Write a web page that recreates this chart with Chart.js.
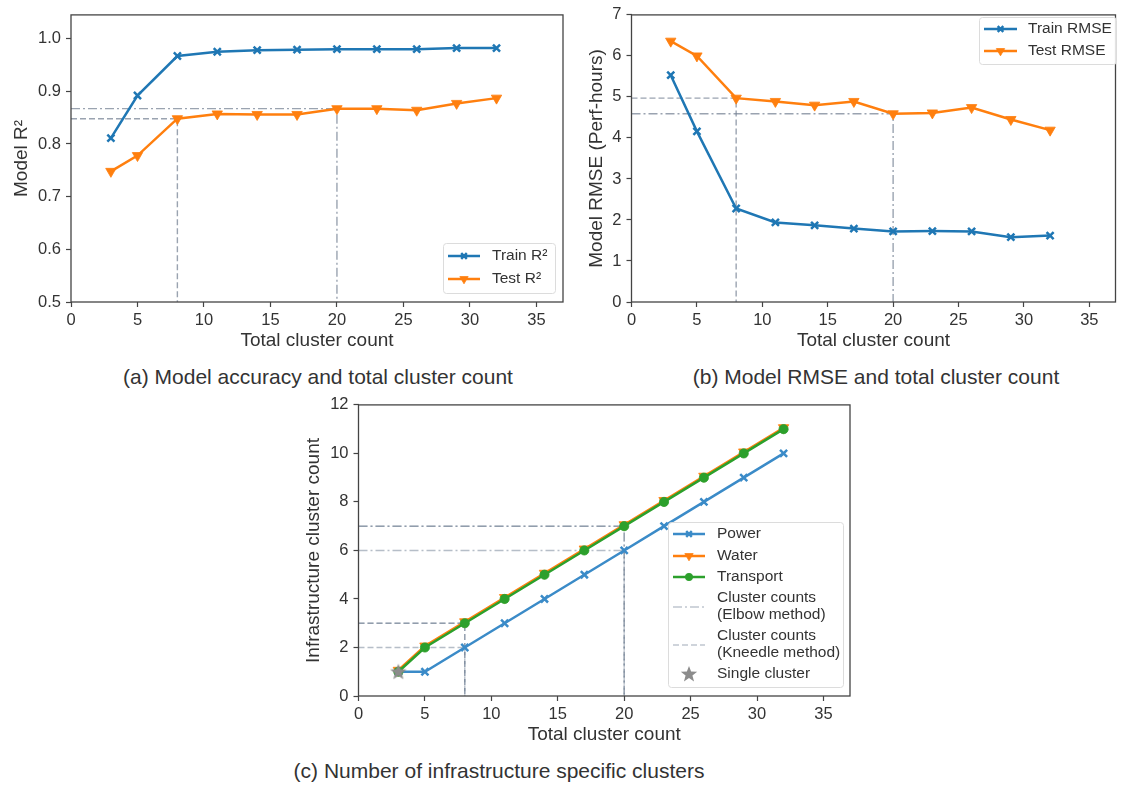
<!DOCTYPE html>
<html>
<head>
<meta charset="utf-8">
<script src="https://cdn.jsdelivr.net/npm/chart.js@4.4.1/dist/chart.umd.min.js"></script>
<style>
  body { margin: 0; background: #fff; }
  #fig { position: relative; width: 1123px; height: 786px; overflow: hidden;
         font-family: "Liberation Sans", Arial, sans-serif; color: #333; }
  canvas { position: absolute; }
  .cap { position: absolute; font-size: 21px; line-height: 1; white-space: nowrap;
         transform: translate(-50%, -50%); }
</style>
</head>
<body>
<div id="fig">
  <canvas id="chartA" width="575" height="360" style="left:0;top:0"></canvas>
  <canvas id="chartB" width="543" height="360" style="left:580px;top:0"></canvas>
  <canvas id="chartC" width="580" height="360" style="left:280px;top:390px"></canvas>
  <div class="cap" style="left:318px;top:376px">(a) Model accuracy and total cluster count</div>
  <div class="cap" style="left:876px;top:376px">(b) Model RMSE and total cluster count</div>
  <div class="cap" style="left:499px;top:770px">(c) Number of infrastructure specific clusters</div>
</div>
<script>
// data
const clusterCounts = [3, 5, 8, 11, 14, 17, 20, 23, 26, 29, 32];
const trainR2 = [0.811, 0.892, 0.967, 0.975, 0.978, 0.979, 0.980, 0.980, 0.980, 0.982, 0.982];
const testR2 = [0.748, 0.778, 0.848, 0.857, 0.856, 0.856, 0.867, 0.867, 0.864, 0.877, 0.887];
const trainRMSE = [5.53, 4.16, 2.28, 1.94, 1.87, 1.79, 1.72, 1.73, 1.72, 1.58, 1.62];
const testRMSE = [6.36, 6.00, 4.97, 4.89, 4.80, 4.89, 4.59, 4.61, 4.74, 4.45, 4.19];
const powerCount = [1, 1, 2, 3, 4, 5, 6, 7, 8, 9, 10];
const waterCount = [1.06, 2.06, 3.06, 4.06, 5.06, 6.06, 7.06, 8.06, 9.06, 10.06, 11.06];
const transportCount = [1, 2, 3, 4, 5, 6, 7, 8, 9, 10, 11];
const singleX = [3];
const singleY = [1];
const kneedleK = 8;
const elbowK = 20;
const xTicks = [0, 5, 10, 15, 20, 25, 30, 35];
const r2Ticks = [0.5, 0.6, 0.7, 0.8, 0.9, 1.0];
const rmseTicks = [0, 1, 2, 3, 4, 5, 6, 7];
const countTicks = [0, 2, 4, 6, 8, 10, 12];

const FONT = '"Liberation Sans", Arial, sans-serif';
const BLUE = '#1f77b4', ORANGE = '#ff7f0e', GREEN = '#2ca02c';
const DASH = [6, 3], DASHDOT = [9, 3, 2, 3];
Chart.defaults.font.family = FONT;
Chart.defaults.color = '#333';

const pts = (xs, ys) => xs.map((x, i) => ({ x, y: ys[i] }));
const at = (ys, k) => ys[clusterCounts.indexOf(k)];

// filled star marker
const star = document.createElement('canvas');
star.width = 18; star.height = 18;
(() => {
  const c = star.getContext('2d');
  c.beginPath();
  for (let i = 0; i < 10; i++) {
    const r = i % 2 ? 3.6 : 8.6;
    const a = -Math.PI / 2 + i * Math.PI / 5;
    c.lineTo(9 + r * Math.cos(a), 9.5 + r * Math.sin(a));
  }
  c.closePath();
  c.fillStyle = '#8c8c8c';
  c.fill();
})();

function series(label, ys, color, marker, order, width) {
  const d = {
    label, data: pts(clusterCounts, ys), showLine: true, order,
    borderColor: color, borderWidth: width || 2.5,
    pointBorderColor: color, pointBackgroundColor: color, pointRotation: 0
  };
  if (marker === 'x') Object.assign(d, { pointStyle: 'crossRot', pointRadius: 5, pointBorderWidth: 2.5 });
  if (marker === 'v') Object.assign(d, { pointStyle: 'triangle', pointRadius: 6, pointRotation: 180, pointBorderWidth: 0.8 });
  if (marker === 'o') Object.assign(d, { pointStyle: 'circle', pointRadius: 4.6, pointBorderWidth: 0.8 });
  return d;
}

function refLine(k, v, ymin, color, dash) {
  return {
    label: 'ref', data: [{ x: 0, y: v }, { x: k, y: v }, { x: k, y: ymin }],
    showLine: true, pointRadius: 0, borderColor: color, borderWidth: 1.4,
    borderDash: dash, order: 10
  };
}

function axis(o) {
  return {
    type: 'linear', min: o.min, max: o.max,
    afterBuildTicks: s => { s.ticks = o.ticks.map(v => ({ value: v })); },
    afterFit: s => { if (o.h) s.height = o.h; if (o.w) s.width = o.w; },
    ticks: { font: { size: 16.5 }, color: '#333', padding: o.tp || 4,
             callback: v => o.fmt ? o.fmt(v) : v },
    grid: { drawOnChartArea: false, drawTicks: true, tickLength: 5, tickWidth: 1.2, tickColor: '#444' },
    border: { display: false },
    title: { display: true, text: o.title, font: { size: 19 }, color: '#333', padding: o.pad }
  };
}

const frame = {
  id: 'frame',
  afterDraw(chart) {
    const { ctx, chartArea: a } = chart;
    ctx.save();
    ctx.strokeStyle = '#444';
    ctx.lineWidth = 1.3;
    ctx.strokeRect(a.left, a.top, a.right - a.left, a.bottom - a.top);
    ctx.restore();
  }
};

const boxLegend = {
  id: 'boxLegend',
  afterDraw(chart, args, o) {
    if (!o || !o.items) return;
    const ctx = chart.ctx;
    ctx.save();
    ctx.beginPath();
    ctx.roundRect(o.box[0] + 0.5, o.box[1] + 0.5, o.box[2], o.box[3], 3);
    ctx.fillStyle = 'rgba(255,255,255,0.85)';
    ctx.fill();
    ctx.strokeStyle = '#dcdcdc';
    ctx.lineWidth = 1;
    ctx.stroke();
    o.items.forEach(it => {
      const ds = chart.data.datasets[it.ds];
      const [x0, x1] = o.sample;
      if (ds.showLine) {
        ctx.beginPath();
        ctx.setLineDash(ds.borderDash || []);
        ctx.strokeStyle = it.color || ds.borderColor;
        ctx.lineWidth = it.lw || ds.borderWidth;
        ctx.moveTo(x0, it.sy); ctx.lineTo(x1, it.sy);
        ctx.stroke();
        ctx.setLineDash([]);
      }
      if (ds.pointRadius > 0) {
        ctx.fillStyle = ds.pointBackgroundColor;
        ctx.strokeStyle = ds.pointBorderColor;
        ctx.lineWidth = ds.pointBorderWidth;
        Chart.helpers.drawPoint(ctx, {
          pointStyle: ds.pointStyle, radius: ds.pointRadius * 0.8,
          rotation: ds.pointRotation || 0, borderWidth: ds.pointBorderWidth
        }, (x0 + x1) / 2, it.sy);
      }
      ctx.font = '15.5px ' + FONT;
      ctx.fillStyle = '#333';
      ctx.textBaseline = 'middle';
      it.text.forEach((t, i) => ctx.fillText(t, o.textX, it.ty[i]));
    });
    ctx.restore();
  }
};

function makeChart(id, datasets, scales, padding, legendOpts) {
  return new Chart(document.getElementById(id), {
    type: 'scatter',
    data: { datasets },
    options: {
      responsive: false, animation: false, events: [],
      layout: { padding },
      scales,
      plugins: { legend: { display: false }, tooltip: { enabled: false }, boxLegend: legendOpts }
    },
    plugins: [frame, boxLegend]
  });
}

// (a) accuracy
const refA = 'rgba(120,132,150,0.75)';
makeChart('chartA', [
  series('Train R²', trainR2, BLUE, 'x', 1),
  series('Test R²', testR2, ORANGE, 'v', 2),
  refLine(kneedleK, at(testR2, kneedleK), 0.5, refA, DASH),
  refLine(elbowK, at(testR2, elbowK), 0.5, refA, DASHDOT)
], {
  x: axis({ min: 0, max: 37, ticks: xTicks, title: 'Total cluster count', h: 58, pad: { top: 0, bottom: 8 } }),
  y: axis({ min: 0.5, max: 1.045, ticks: r2Ticks, title: 'Model R²', w: 71, tp: 5,
            fmt: v => v.toFixed(1), pad: { top: 10, bottom: 0 } })
}, { top: 10, right: 12, left: 0, bottom: 0 }, {
  box: [443, 243, 112, 50], sample: [448, 480], textX: 492,
  items: [
    { ds: 0, sy: 256, text: ['Train R²'], ty: [256] },
    { ds: 1, sy: 279, text: ['Test R²'], ty: [279] }
  ]
});

// (b) RMSE
makeChart('chartB', [
  series('Train RMSE', trainRMSE, BLUE, 'x', 1),
  series('Test RMSE', testRMSE, ORANGE, 'v', 2),
  refLine(kneedleK, at(testRMSE, kneedleK), 0, refA, DASH),
  refLine(elbowK, at(testRMSE, elbowK), 0, refA, DASHDOT)
], {
  x: axis({ min: 0, max: 37, ticks: xTicks, title: 'Total cluster count', h: 58, pad: { top: 0, bottom: 8 } }),
  y: axis({ min: 0, max: 7, ticks: rmseTicks, title: 'Model RMSE (Perf-hours)', w: 51.5, tp: 5,
            pad: { top: 5, bottom: 0 } })
}, { top: 10, right: 1, left: 0, bottom: 0 }, {
  box: [399, 17, 137, 47], sample: [404, 437], textX: 448,
  items: [
    { ds: 0, sy: 29, text: ['Train RMSE'], ty: [29] },
    { ds: 1, sy: 51, text: ['Test RMSE'], ty: [51] }
  ]
});

// (c) infrastructure clusters
const refC = 'rgba(110,125,145,0.5)';
const BLUE_C = '#3b8bc8';
makeChart('chartC', [
  series('Transport', transportCount, GREEN, 'o', 1),
  series('Water', waterCount, ORANGE, 'v', 2),
  series('Power', powerCount, BLUE_C, 'x', 3),
  { label: 'Single cluster', data: pts(singleX, singleY), showLine: false, order: 0,
    pointStyle: star, pointRadius: 8, pointBackgroundColor: '#8c8c8c', pointBorderColor: '#8c8c8c', pointBorderWidth: 0 },
  refLine(elbowK, at(powerCount, elbowK), 0, refC, DASHDOT),
  refLine(kneedleK, at(powerCount, kneedleK), 0, refC, DASH),
  refLine(elbowK, at(transportCount, elbowK), 0, refC, DASHDOT),
  refLine(kneedleK, at(transportCount, kneedleK), 0, refC, DASH),
  refLine(elbowK, at(transportCount, elbowK), 0, refC, DASHDOT),
  refLine(kneedleK, at(transportCount, kneedleK), 0, refC, DASH)
], {
  x: axis({ min: 0, max: 37, ticks: xTicks, title: 'Total cluster count', h: 54, pad: { top: 0, bottom: 4 } }),
  y: axis({ min: 0, max: 12, ticks: countTicks, title: 'Infrastructure cluster count', w: 78.5, tp: 5,
            pad: { top: 22, bottom: 0 } })
}, { top: 14, right: 10, left: 0, bottom: 0 }, {
  box: [388, 132, 175, 165], sample: [393, 425], textX: 437,
  items: [
    { ds: 2, sy: 144, text: ['Power'], ty: [144] },
    { ds: 1, sy: 166, text: ['Water'], ty: [166] },
    { ds: 0, sy: 187, text: ['Transport'], ty: [187] },
    { ds: 4, sy: 217, text: ['Cluster counts', '(Elbow method)'], ty: [208, 225], lw: 1.2, color: 'rgba(120,135,155,0.7)' },
    { ds: 5, sy: 255, text: ['Cluster counts', '(Kneedle method)'], ty: [246, 263], lw: 1.2, color: 'rgba(120,135,155,0.7)' },
    { ds: 3, sy: 284, text: ['Single cluster'], ty: [284] }
  ]
});
</script>
</body>
</html>
